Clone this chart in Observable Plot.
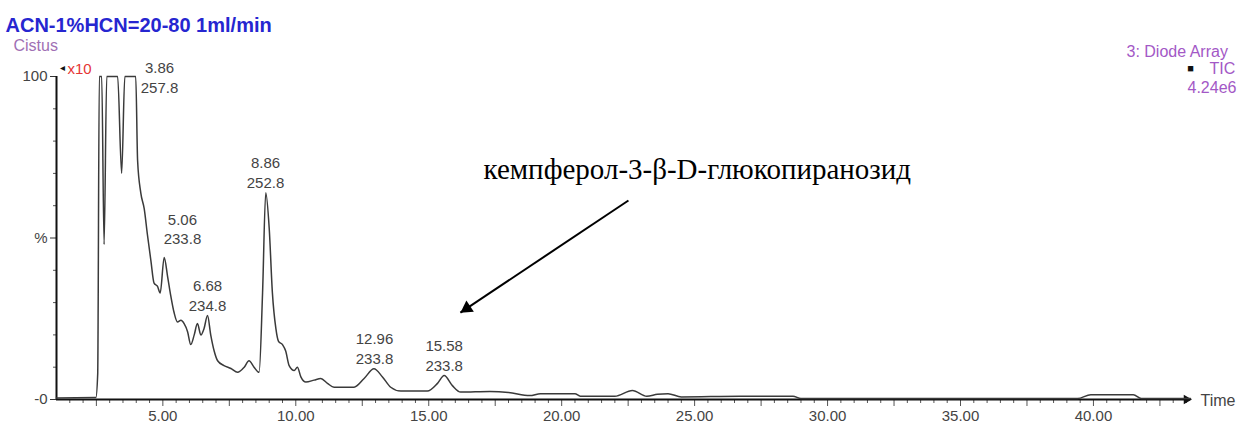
<!DOCTYPE html>
<html><head><meta charset="utf-8">
<script src="https://cdn.jsdelivr.net/npm/d3@7"></script>
<script src="https://cdn.jsdelivr.net/npm/@observablehq/plot@0.6"></script>
<style>html,body{margin:0;padding:0;background:#fff;overflow:hidden}</style>
</head><body><div id="chart"></div>
<script>
// Chromatogram trace (retention time, min ; relative intensity, %)
const retentionTime = [1.0, 2.48, 2.55, 2.61, 2.70, 2.79, 2.89, 3.30, 3.45, 3.57, 3.98, 4.05, 4.17, 4.30, 4.42, 4.55, 4.67, 4.80, 4.90, 5.05, 5.18, 5.30, 5.42, 5.55, 5.68, 5.80, 5.93, 6.05, 6.18, 6.30, 6.43, 6.55, 6.68, 6.80, 6.93, 7.06, 7.30, 7.56, 7.81, 8.06, 8.24, 8.43, 8.62, 8.75, 8.87, 9.00, 9.12, 9.25, 9.35, 9.50, 9.62, 9.75, 9.94, 10.06, 10.19, 10.38, 10.69, 10.94, 11.19, 11.44, 12.19, 12.57, 12.94, 13.26, 13.57, 13.95, 14.95, 15.33, 15.58, 15.89, 16.20, 17.30, 18.00, 18.80, 19.20, 20.50, 20.70, 22.00, 22.66, 23.20, 23.60, 24.00, 24.50, 26.70, 28.70, 29.00, 39.40, 39.90, 41.50, 41.80, 43.65];
const intensity = [0.5, 0.6, 8, 100, 100, 48, 100, 100, 70, 100, 100, 74, 64, 59, 51, 43, 36, 35, 33, 44, 38, 32, 27, 24, 24.5, 23.5, 21, 17, 20, 23.5, 20, 22, 26, 20, 15, 12, 10.5, 9.6, 8.4, 10, 12, 10, 8.4, 33, 64, 53, 33, 22, 18, 17, 15, 10.5, 9, 10, 7, 5.4, 6, 6.5, 5, 3.8, 3.8, 6.5, 9.5, 7, 3.8, 2.6, 2.6, 5, 7.4, 4.3, 2.3, 2.5, 2.2, 1.2, 1.8, 1.8, 1.0, 1.0, 2.8, 1.0, 1.6, 1.8, 0.8, 1.0, 1.0, 0.3, 0.3, 1.5, 1.5, 0.3, 0.3];

// Labelled peaks
const peakTimes = [3.86, 5.06, 6.68, 8.86, 12.96, 15.58];
const peakHeights = [100, 44, 26, 64, 9.5, 7.4];
const peakWavelengths = ["257.8", "233.8", "234.8", "252.8", "233.8", "233.8"];

// Axis ticks
const xTickLabels = [5, 10, 15, 20, 25, 30, 35, 40];
const yTickValues = [0, 50, 100];
const yTickLabels = ["-0", "%", "100"];

// Texts
const titleText = "ACN-1%HCN=20-80 1ml/min";
const sampleText = "Cistus";
const scaleText = "x10";
const detectorText = "3: Diode Array";
const traceText = "TIC";
const maxText = "4.24e6";
const xAxisText = "Time";
const noteText = "кемпферол-3-β-D-глюкопиранозид";
const noteAt = [25.1, 71.1];          // data coords (min, %)
const arrowFrom = [22.51, 61.6];
const arrowTo = [16.19, 26.9];

const X0 = 1.0, X1 = 43.65;
const trace = retentionTime.map((t, i) => ({t, v: intensity[i]}));
const peaks = peakTimes.map((t, i) => ({t, v: peakHeights[i], nm: peakWavelengths[i]}));
const minorX = d3.range(1.5, 43.6, 0.5).filter(d => d % 2.5 !== 0);
const majorX = d3.range(2.5, 43.6, 2.5);
const minorY = d3.range(10, 100, 10).filter(d => d !== 50);

const sans = "'Liberation Sans', Arial, sans-serif";
const purple = "#a358c6";
const peakLabel = d => d.t.toFixed(2) + "\n" + d.nm;

const chart = Plot.plot({
  width: 1237, height: 430,
  marginLeft: 56, marginRight: 47, marginTop: 76, marginBottom: 31,
  x: {domain: [X0, X1]},
  y: {domain: [0, 100]},
  style: {fontFamily: sans, fontSize: "15px", color: "#444", background: "#fff", overflow: "visible"},
  marks: [
    Plot.axisX({ticks: minorX, tickSize: 4, tickFormat: () => "", label: null, stroke: "#555"}),
    Plot.axisX({ticks: majorX, tickSize: 7, tickPadding: 4, label: null, stroke: "#555", fill: "#444",
      tickFormat: d => xTickLabels.includes(d) ? d3.format(".2f")(d) : "", fontSize: 15}),
    Plot.axisY({ticks: minorY, tickSize: 3, tickFormat: () => "", label: null, stroke: "#555"}),
    Plot.axisY({ticks: yTickValues, tickSize: 6, tickPadding: 3, label: null, stroke: "#333", fill: "#444",
      tickFormat: d => yTickLabels[yTickValues.indexOf(d)], fontSize: 15}),
    Plot.ruleY([0], {stroke: "#111", strokeWidth: 2}),
    Plot.ruleX([X0], {y1: 0, y2: 100, stroke: "#111", strokeWidth: 2}),
    Plot.dot([[X1, 0]], {x: d => d[0], y: d => d[1], symbol: "triangle", rotate: 90, r: 3.5, fill: "#111", stroke: "none", dx: -4}),
    Plot.line(trace, {x: "t", y: "v", stroke: "#3a3a3a", strokeWidth: 1.5, curve: "monotone-x"}),
    // peak labels
    Plot.text(peaks.slice(2), {x: "t", y: "v", text: peakLabel,
      lineAnchor: "bottom", lineHeight: 1.3, dy: -5, fill: "#444", fontSize: 15}),
    Plot.text(peaks.slice(0, 1), {x: "t", y: "v", text: peakLabel,
      lineAnchor: "bottom", lineHeight: 1.3, dx: 27, dy: 16, fill: "#444", fontSize: 15}),
    Plot.text(peaks.slice(1, 2), {x: "t", y: "v", text: peakLabel,
      lineAnchor: "bottom", lineHeight: 1.3, dx: 18, dy: -13, fill: "#444", fontSize: 15}),
    // annotation
    Plot.text([noteText], {x: () => noteAt[0], y: () => noteAt[1], text: d => d,
      fontFamily: "'Liberation Serif', 'Times New Roman', serif", fontSize: 29, fill: "#000", lineAnchor: "middle"}),
    Plot.link([0], {x1: () => arrowFrom[0], y1: () => arrowFrom[1], x2: () => arrowTo[0], y2: () => arrowTo[1],
      stroke: "#000", strokeWidth: 2}),
    Plot.dot([arrowTo], {x: d => d[0], y: d => d[1], symbol: "triangle", rotate: 236.3, r: 5, fill: "#000",
      stroke: "none", dx: 6.5, dy: -4.3}),
    // header texts
    Plot.text([titleText], {frameAnchor: "top-left", text: d => d, dx: -51, dy: -45, textAnchor: "start",
      lineAnchor: "bottom", fontWeight: "bold", fontSize: 20, fill: "#2626d0"}),
    Plot.text([sampleText], {frameAnchor: "top-left", text: d => d, dx: -43, dy: -26, textAnchor: "start",
      lineAnchor: "bottom", fontSize: 16, fill: "#a070b4"}),
    Plot.text([scaleText], {frameAnchor: "top-left", text: d => d, dx: 11, dy: -3, textAnchor: "start",
      lineAnchor: "bottom", fontSize: 15, fill: "#e53535"}),
    Plot.text(["◂"], {frameAnchor: "top-left", text: d => d, dx: 6, dy: -9, textAnchor: "middle",
      lineAnchor: "middle", fontSize: 10, fill: "#111"}),
    Plot.text([detectorText], {frameAnchor: "top-right", text: d => d, dx: -64, dy: -20, textAnchor: "start",
      lineAnchor: "bottom", fontSize: 16, fill: purple}),
    Plot.text(["■"], {frameAnchor: "top-right", text: d => d, dx: 0, dy: -8, textAnchor: "middle",
      lineAnchor: "middle", fontSize: 11, fill: "#111"}),
    Plot.text([traceText], {frameAnchor: "top-right", text: d => d, dx: 19, dy: -3, textAnchor: "start",
      lineAnchor: "bottom", fontSize: 16, fill: purple}),
    Plot.text([maxText], {frameAnchor: "top-right", text: d => d, dx: -3, dy: 16, textAnchor: "start",
      lineAnchor: "bottom", fontSize: 16, fill: purple}),
    Plot.text([xAxisText], {frameAnchor: "bottom-right", text: d => d, dx: 10, dy: 1, textAnchor: "start",
      lineAnchor: "middle", fontSize: 16, fill: "#444"})
  ]
});
document.getElementById("chart").appendChild(chart);
</script>
</body></html>
